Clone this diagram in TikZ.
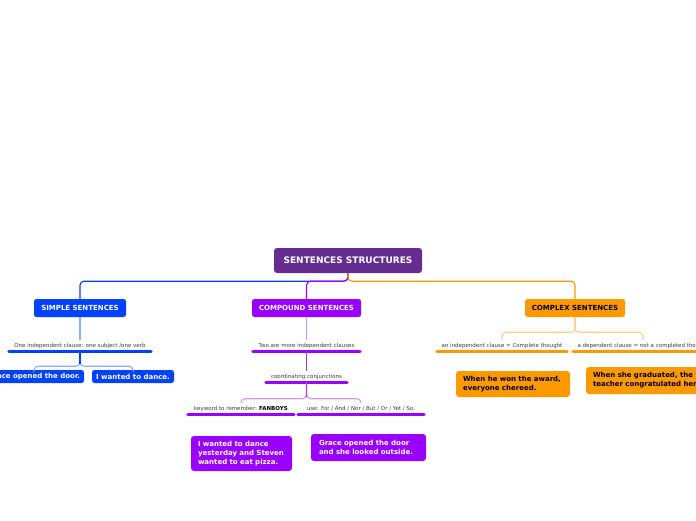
\documentclass[tikz,border=0pt]{standalone}
\usepackage{fontspec}
\setmainfont{DejaVu Sans}
\definecolor{rootc}{RGB}{102,45,145}
\definecolor{bluec}{RGB}{0,66,255}
\definecolor{purc}{RGB}{153,0,255}
\definecolor{orac}{RGB}{255,153,0}
\definecolor{lblue}{RGB}{140,170,255}
\definecolor{lpur}{RGB}{215,150,255}
\definecolor{lora}{RGB}{255,205,140}
\definecolor{subtext}{RGB}{60,60,60}
\begin{document}
\begin{tikzpicture}[x=1pt,y=-1pt,
  rootbox/.style={fill=rootc, text=white, font=\bfseries\fontsize{9}{11}\selectfont,
    rounded corners=3pt, minimum width=148pt, minimum height=25pt, inner sep=0pt},
  mainbox/.style={fill=#1, font=\bfseries\fontsize{7}{9}\selectfont,
    rounded corners=2.5pt, minimum height=18pt, inner sep=0pt},
  subt/.style={font=\fontsize{5.5}{7}\selectfont, text=subtext, minimum height=11pt, inner sep=0pt},
  leafone/.style={fill=#1, text=white, font=\bfseries\fontsize{7}{9}\selectfont,
    rounded corners=2.5pt, minimum height=13pt, inner sep=0pt},
  leafmulti/.style={fill=#1, font=\bfseries\fontsize{7}{9}\selectfont,
    rounded corners=3pt, inner xsep=7pt, inner ysep=0pt, align=left},
  conn/.style={draw=#1, line width=1.1pt, rounded corners=4pt},
  uline/.style={draw=#1, line width=3pt, line cap=round},
]
\useasboundingbox (0,0) rectangle (696,520);
\clip (0,0) rectangle (696,520);
\fill[white] (0,0) rectangle (696,520);

% root and main topics
\node[rootbox] (root) at (348,260.5) {SENTENCES STRUCTURES};
\node[mainbox=bluec, text=white, minimum width=92pt] (simple) at (80,308) {SIMPLE SENTENCES};
\node[mainbox=purc, text=white, minimum width=109pt] (compound) at (306.5,308) {COMPOUND SENTENCES};
\node[mainbox=orac, text=black, minimum width=100pt] (complex) at (575,308) {COMPLEX SENTENCES};

\draw[conn=bluec] (root.south) -- ++(0,8) -| (simple.north);
\draw[conn=purc] (root.south) -- ++(0,8) -| (compound.north);
\draw[conn=orac] (root.south) -- ++(0,8) -| (complex.north);

% simple branch
\node[subt, minimum width=142pt] (s1) at (80,345.5) {One independent clause: one subject /one verb};
\draw[uline=bluec] (s1.south west) -- (s1.south east);
\draw[conn=lblue] (simple.south) -- (s1.north);
\node[leafone=bluec, minimum width=100pt] (g1) at (34,376.5) {Grace opened the door.};
\node[leafone=bluec, minimum width=82pt] (g2) at (133,376.5) {I wanted to dance.};
\draw[conn=lblue] (s1.south) -- ++(0,15) -| (g1.north);
\draw[conn=lblue] (s1.south) -- ++(0,15) -| (g2.north);
\draw[draw=bluec, line width=1.1pt] (s1.south) -- ++(0,13);

% compound branch
\node[subt, minimum width=107pt] (c1) at (306.5,345.5) {Two are more independent clauses};
\draw[uline=purc] (c1.south west) -- (c1.south east);
\draw[conn=lpur] (compound.south) -- (c1.north);
\node[subt, minimum width=81pt] (c2) at (306.5,377) {coordinating conjunctions};
\draw[uline=purc] (c2.south west) -- (c2.south east);
\draw[conn=purc!80] (c1.south) -- (c2.north);
\node[subt, minimum width=106pt] (c3) at (241,408.5) {keyword to remember: \textcolor{black}{\bfseries FANBOYS}};
\draw[uline=purc] (c3.south west) -- (c3.south east);
\node[subt, minimum width=126pt] (c4) at (361,408.5) {use: For / And / Nor / But / Or / Yet / So.};
\draw[uline=purc] (c4.south west) -- (c4.south east);
\draw[conn=lpur] (c2.south) -- ++(0,16) -| (c3.north);
\draw[conn=lpur] (c2.south) -- ++(0,16) -| (c4.north);
\draw[draw=purc!80, line width=1.1pt] (c2.south) -- ++(0,14);

\node[leafmulti=purc, text=white, text width=87pt, minimum height=35pt] (c5) at (241.5,453.5)
  {I wanted to dance\\yesterday and Steven\\wanted to eat pizza.};
\node[leafmulti=purc, text=white, text width=99pt, inner xsep=8pt, minimum height=27pt] (c6) at (368.5,447.5)
  {Grace opened the door\\and she looked outside.};

% complex branch
\node[subt, minimum width=130pt] (x1) at (502,345.5) {an independent clause = Complete thought};
\draw[uline=orac] (x1.south west) -- (x1.south east);
\node[subt, minimum width=140pt] (x2) at (643,345.5) {a dependent clause = not a completed thought};
\draw[uline=orac] (x2.south west) -- (x2.south east);
\draw[conn=lora] (complex.south) -- ++(0,15) -| (x1.north);
\draw[conn=lora] (complex.south) -- ++(0,15) -| (x2.north);

\node[leafmulti=orac, text=black, text width=100pt, minimum height=26pt] (o1) at (513,384)
  {When he won the award,\\everyone chereed.};
\node[leafmulti=orac, text=black, text width=120pt, minimum height=27pt] (o2) at (653,380.5)
  {When she graduated, the\\teacher congratulated her.};
\end{tikzpicture}
\end{document}
